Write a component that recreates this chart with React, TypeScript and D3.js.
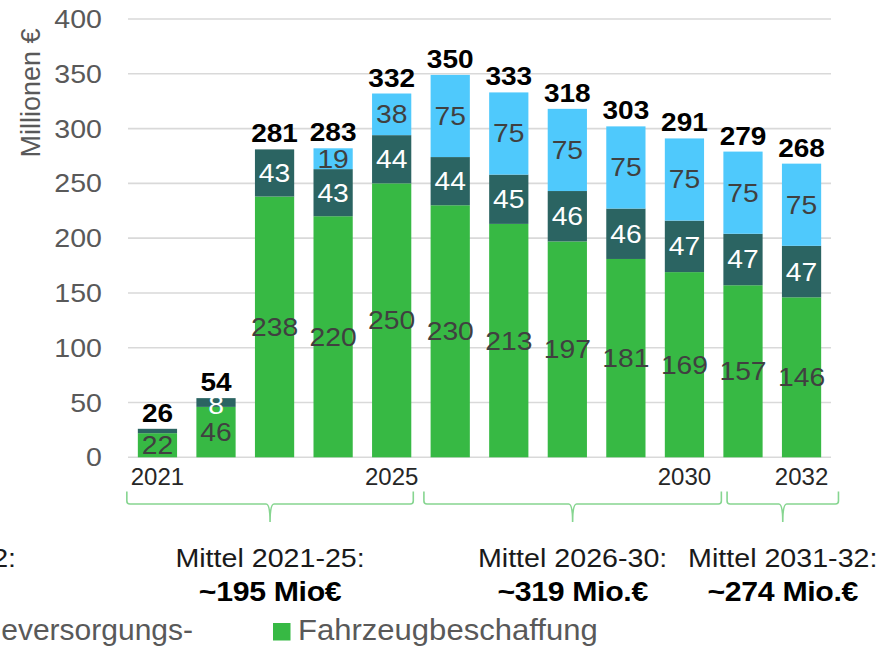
import React from "react";
import * as d3 from "d3";

const years = ["2021","2022","2023","2024","2025","2026","2027","2028","2029","2030","2031","2032"];
const fahrzeug = [22, 46, 238, 220, 250, 230, 213, 197, 181, 169, 157, 146];
const energie = [4, 8, 43, 43, 44, 44, 45, 46, 46, 47, 47, 47];
const sonstige = [0, 0, 0, 19, 38, 75, 75, 75, 75, 75, 75, 75];
const totals = [26, 54, 281, 283, 332, 350, 333, 318, 303, 291, 279, 268];
const yTicks = [0, 50, 100, 150, 200, 250, 300, 350, 400];
const shownYears = ["2021", "2025", "2030", "2032"];
const groups = [
  { from: "2021", to: "2025", title: "Mittel 2021-25:", value: "~195 Mio€" },
  { from: "2026", to: "2030", title: "Mittel 2026-30:", value: "~319 Mio.€" },
  { from: "2031", to: "2032", title: "Mittel 2031-32:", value: "~274 Mio.€" },
];
const yTitle = "Millionen €";
const legendCut = "eversorgungs-";
const legendGreen = "Fahrzeugbeschaffung";
const cutTitle = "2:";

// layout (pixel tweaks for bracket ends, relative to bar edges)
const bracketOffsets = [[-11, 2], [-6.7, 17.3], [3.7, 17.3]];

const C = {
  green: "#37b944",
  teal: "#2b6462",
  blue: "#4fc9fc",
  grid: "#d9d9d9",
  axis: "#595959",
  label: "#404040",
  bracket: "#86d590",
};
const FONT = "'Liberation Sans', Arial, sans-serif";

function SText({ x, y, sx = 1, anchor = "middle", children, ...rest }: any) {
  return (
    <text transform={`translate(${x},${y}) scale(${sx},1)`} textAnchor={anchor} {...rest}>
      {children}
    </text>
  );
}

export default function App() {
  const W = 895, H = 649;
  const x = d3.scaleBand<string>().domain(years).range([128, 831]).paddingInner(0.33).paddingOuter(0.168);
  const y = d3.scaleLinear().domain([0, 400]).range([457.3, 19]);
  const bw = x.bandwidth();

  const keys = ["fahrzeug", "energie", "sonstige"];
  const rows = years.map((yr, i) => ({ year: yr, fahrzeug: fahrzeug[i], energie: energie[i], sonstige: sonstige[i] }));
  const stack = d3.stack<any>().keys(keys)(rows);
  const fills: Record<string, string> = { fahrzeug: C.green, energie: C.teal, sonstige: C.blue };
  const labelFill: Record<string, string> = { fahrzeug: C.label, energie: "#ffffff", sonstige: C.label };

  const fs = 25;
  const sx = 1.13;

  return (
    <svg width={W} height={H} style={{ position: "absolute", left: 0, top: 0, background: "#fff" }} fontFamily={FONT}>
      {/* grid */}
      {yTicks.map((t) => (
        <line key={t} x1={128} x2={831} y1={y(t)} y2={y(t)} stroke={C.grid} strokeWidth={1.6} />
      ))}
      {/* tick labels */}
      {yTicks.map((t) => (
        <SText key={t} x={102} y={y(t) + 0.358 * 25.5} sx={1.12} anchor="end" fontSize={25.5} fill={C.axis}>
          {t}
        </SText>
      ))}
      {/* y title */}
      <text transform={`translate(40,93) rotate(-90)`} textAnchor="middle" fontSize={27} fill={C.axis}>
        {yTitle}
      </text>
      {/* bars */}
      {stack.map((s) => (
        <g key={s.key}>
          {s.map((d: any, i: number) => {
            const v = d[1] - d[0];
            if (v <= 0) return null;
            return (
              <rect key={i} x={x(years[i])!} y={y(d[1])} width={bw} height={y(d[0]) - y(d[1])} fill={fills[s.key]} />
            );
          })}
        </g>
      ))}
      {/* segment labels */}
      {stack.map((s) => (
        <g key={"l" + s.key}>
          {s.map((d: any, i: number) => {
            const v = d[1] - d[0];
            if (v < 8) return null;
            const small = v < 12 ? 2.5 : 0;
            const cy = y((d[0] + d[1]) / 2) + small;
            return (
              <SText key={i} x={x(years[i])! + bw / 2} y={cy + 0.358 * fs} sx={sx} fontSize={fs} fill={labelFill[s.key]}>
                {v}
              </SText>
            );
          })}
        </g>
      ))}
      {/* totals */}
      {years.map((yr, i) => {
        const top = fahrzeug[i] + energie[i] + sonstige[i];
        return (
          <SText key={yr} x={x(yr)! + bw / 2} y={y(top) - 7} sx={1.12} fontSize={25} fontWeight="bold" fill="#000">
            {totals[i]}
          </SText>
        );
      })}
      {/* year labels */}
      {shownYears.map((yr) => (
        <text key={yr} x={x(yr)! + bw / 2} y={485} textAnchor="middle" fontSize={24} fill="#262626">
          {yr}
        </text>
      ))}
      {/* brackets */}
      {groups.map((g, gi) => {
        const l = x(g.from)! + bracketOffsets[gi][0];
        const r = x(g.to)! + bw + bracketOffsets[gi][1];
        const m = (l + r) / 2;
        const yt = 491.5, yh = 504, yb = 522;
        const path = `M${l},${yt} L${l},${yh - 3} Q${l},${yh} ${l + 3},${yh} L${m - 4},${yh} Q${m},${yh} ${m},${yb} Q${m},${yh} ${m + 4},${yh} L${r - 3},${yh} Q${r},${yh} ${r},${yh - 3} L${r},${yt}`;
        return (
          <g key={g.title}>
            <path d={path} fill="none" stroke={C.bracket} strokeWidth={1.6} />
            <SText x={m} y={567} sx={1.08} fontSize={26.5} fill="#1a1a1a">{g.title}</SText>
            <SText x={m} y={600.5} sx={1.1} fontSize={27.5} fontWeight="bold" fill="#000" letterSpacing={-0.3}>{g.value}</SText>
          </g>
        );
      })}
      <SText x={16} y={567} sx={1.08} anchor="end" fontSize={26.5} fill="#1a1a1a">{cutTitle}</SText>
      {/* legend */}
      <text x={193} y={640} textAnchor="end" fontSize={30} fill={C.axis}>{legendCut}</text>
      <rect x={273} y={623} width={17.5} height={17.5} fill={C.green} />
      <SText x={298} y={640} sx={1.035} anchor="start" fontSize={30} fill={C.axis}>{legendGreen}</SText>
    </svg>
  );
}
